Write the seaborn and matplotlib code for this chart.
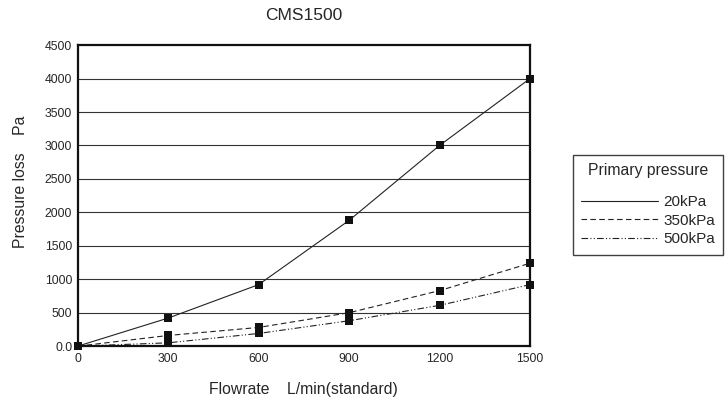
import matplotlib
matplotlib.use("Agg")
import matplotlib.pyplot as plt
import seaborn as sns
import pandas as pd

sns.set_theme(style="white")
plt.rcParams['font.family'] = ['Liberation Sans', 'DejaVu Sans']

flowrate = [0, 300, 600, 900, 1200, 1500]
loss_20kpa = [0, 420, 920, 1880, 3000, 4000]
loss_350kpa = [0, 160, 280, 500, 830, 1240]
loss_500kpa = [0, 50, 190, 380, 610, 920]
series_names = ['20kPa', '350kPa', '500kPa']
y_ticks = [0, 500, 1000, 1500, 2000, 2500, 3000, 3500, 4000, 4500]
y_tick_labels = ['0.0', '500', '1000', '1500', '2000', '2500', '3000', '3500', '4000', '4500']

df = pd.DataFrame({
    'Flowrate': flowrate * 3,
    'Loss': loss_20kpa + loss_350kpa + loss_500kpa,
    'Pressure': [n for n in series_names for _ in flowrate],
})

fig = plt.figure(figsize=(7.26, 4.03), dpi=100)
ax = fig.add_axes([0.107, 0.141, 0.623, 0.747])

for y in y_ticks[1:-1]:
    ax.axhline(y, color='#333333', lw=0.8, zorder=0)

styles = {'20kPa': '-', '350kPa': (0, (5, 3)), '500kPa': (0, (6, 2, 1, 2, 1, 2))}
for name in series_names:
    sub = df[df['Pressure'] == name]
    sns.lineplot(data=sub, x='Flowrate', y='Loss', ax=ax, color='#222222',
                 lw=0.8, linestyle=styles[name], label=name, zorder=2)
    sns.scatterplot(data=sub, x='Flowrate', y='Loss', ax=ax, color='#111111',
                    marker='s', s=28, linewidth=0, zorder=3, legend=False, clip_on=False)

ax.set_xlim(0, 1500)
ax.set_ylim(0, 4500)
ax.set_xticks(flowrate)
ax.set_xticklabels([str(v) for v in flowrate], fontsize=8.8)
ax.set_yticks(y_ticks)
ax.set_yticklabels(y_tick_labels, fontsize=8.8)
ax.tick_params(axis='x', direction='in', length=2, width=1.5, pad=5)
ax.tick_params(axis='y', length=0, pad=4)
for s in ax.spines.values():
    s.set_color('#111111')
    s.set_linewidth(1.6)

ax.set_xlabel('Flowrate    L/min(standard)', fontsize=11.3, labelpad=12)
ax.set_ylabel('Pressure loss    Pa', fontsize=11.3)
ax.yaxis.set_label_coords(-0.11, 0.545)
ax.set_title('CMS1500', fontsize=12.5, pad=18)

leg = ax.legend(title='Primary pressure', loc='upper left', bbox_to_anchor=(1.095, 0.635),
                fontsize=11, title_fontsize=11.3, frameon=True, fancybox=False,
                handlelength=5.0, handletextpad=0.35, borderpad=0.55, labelspacing=0.3,
                borderaxespad=0, alignment='center')
leg._legend_box.sep = 12  # extra gap under the title, as in the original
leg.get_frame().set_edgecolor('#111111')
leg.get_frame().set_linewidth(1.0)

fig.savefig('out.png', dpi=100)
